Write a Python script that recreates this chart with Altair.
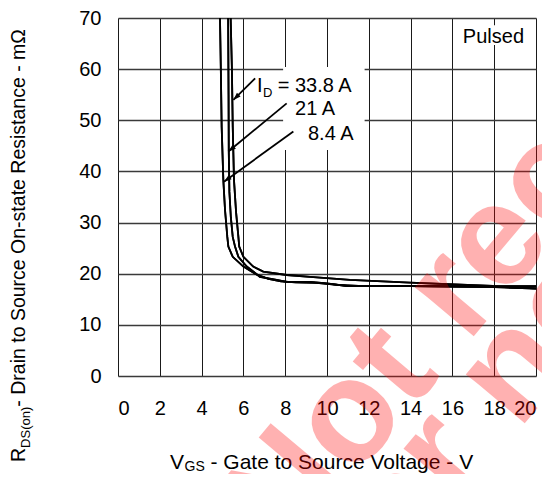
import math
import altair as alt
import pandas as pd

# ---------------- data ----------------
X_DOMAIN = [0, 20]
Y_DOMAIN = [0, 70]
x_ticks = list(range(0, 21, 2))
y_grid = list(range(0, 71, 5))

# I_D = 33.8 A
vgs_338 = [5.39, 5.45, 5.49, 5.55, 5.65, 5.76, 5.80, 6.00, 6.47, 6.95, 8.07, 9.19, 11.1, 13.97, 17.94, 20.0]
rds_338 = [70.0, 60.0, 48.7, 38.3, 32.0, 27.2, 25.3, 23.3, 21.4, 20.4, 19.75, 19.4, 18.8, 18.24, 17.6, 17.55]
# I_D = 21 A
vgs_21 = [5.27, 5.29, 5.30, 5.33, 5.40, 5.49, 5.60, 5.76, 6.16, 6.79, 7.59, 8.07, 9.19, 9.99, 10.94, 13.97, 17.94, 20.0]
rds_21 = [70.0, 55.0, 44.0, 36.0, 31.0, 27.2, 25.3, 23.3, 21.4, 19.4, 18.8, 18.4, 18.4, 18.1, 17.6, 17.6, 17.46, 17.15]
# I_D = 8.4 A
vgs_84 = [4.88, 4.92, 4.96, 5.04, 5.12, 5.23, 5.28, 5.49, 6.00, 6.60, 7.20, 7.80, 8.50, 9.50, 10.50, 11.50, 14.0, 18.0, 20.0]
rds_84 = [70.0, 60.0, 48.7, 38.3, 32.5, 27.2, 25.3, 23.3, 21.4, 19.9, 19.0, 18.5, 18.3, 18.2, 17.8, 17.6, 17.6, 17.4, 17.1]

# arrows: start (text side) -> tip (on curve)
arrow_x1 = [6.56, 8.07, 8.39]
arrow_y1 = [58.2, 53.3, 47.8]
arrow_x2 = [5.52, 5.28, 5.07]
arrow_y2 = [53.97, 43.9, 38.0]

# ---------------- layout ----------------
W, H = 418, 358
FONT = "Liberation Sans"
px_per_x = W / (X_DOMAIN[1] - X_DOMAIN[0])
px_per_y = H / (Y_DOMAIN[1] - Y_DOMAIN[0])

rows = []
for name, xs, ys in [("33.8 A", vgs_338, rds_338), ("21 A", vgs_21, rds_21), ("8.4 A", vgs_84, rds_84)]:
    for i, (xv, yv) in enumerate(zip(xs, ys)):
        rows.append({"series": name, "order": i, "vgs": xv, "rds": yv})
curves = pd.DataFrame(rows)

arr = pd.DataFrame({"x1": arrow_x1, "y1": arrow_y1, "x2": arrow_x2, "y2": arrow_y2})
arr["ang"] = [
    (math.degrees(math.atan2((b - a) * px_per_x, (d - c) * px_per_y)) + 360) % 360
    for a, b, c, d in zip(arr.x1, arr.x2, arr.y1, arr.y2)
]

xs = alt.Scale(domain=X_DOMAIN, nice=False, zero=False)
ys = alt.Scale(domain=Y_DOMAIN, nice=False, zero=False)

x_axis = alt.Axis(values=x_ticks, grid=True, gridColor="#1a1a1a", gridWidth=1, ticks=False,
                  domain=False, labelFont=FONT, labelFontSize=20, labelColor="black",
                  labelPadding=22, title=None)
y_axis = alt.Axis(values=y_grid, grid=True, gridColor="#3a3a3a", gridWidth=1.4, ticks=False,
                  domain=False, labelFont=FONT, labelFontSize=20, labelColor="black",
                  labelPadding=17, title=None,
                  labelExpr="datum.value % 10 == 0 ? datum.label : ''")

lines = alt.Chart(curves).mark_line(color="black", strokeWidth=1.8, clip=True).encode(
    x=alt.X("vgs:Q", scale=xs, axis=x_axis),
    y=alt.Y("rds:Q", scale=ys, axis=y_axis),
    detail="series:N",
    order="order:Q",
)

# white label backgrounds (hide the grid behind the annotations)
bg = pd.DataFrame({
    "bx1": [7.9, 6.3, 16.1],
    "bx2": [11.8, 7.9, 19.7],
    "by1": [44.2, 54.2, 64.7],
    "by2": [60.4, 59.6, 68.6],
})
boxes = alt.Chart(bg).mark_rect(fill="white").encode(
    x=alt.X("bx1:Q", scale=xs, title=None), x2="bx2:Q",
    y=alt.Y("by1:Q", scale=ys, title=None), y2="by2:Q",
)

shafts = alt.Chart(arr).mark_rule(color="black", strokeWidth=1.8).encode(
    x=alt.X("x1:Q", scale=xs, title=None), x2="x2:Q",
    y=alt.Y("y1:Q", scale=ys, title=None), y2="y2:Q",
)
heads = alt.Chart(arr).mark_point(
    shape="M0,0L0.65,1.9L-0.65,1.9Z", filled=True, color="black", size=64, opacity=1
).encode(
    x=alt.X("x2:Q", scale=xs, title=None),
    y=alt.Y("y2:Q", scale=ys, title=None),
    angle=alt.Angle("ang:Q", scale=None),
)

# annotation texts
ann = pd.DataFrame({
    "tx": [6.65, 6.94, 7.64, 8.47, 9.09, 16.5],
    "ty": [55.53, 54.56, 55.53, 51.0, 46.1, 65.1],
    "txt": ["I", "D", "= 33.8 A", "21 A", "8.4 A", "Pulsed"],
    "fs": [20, 13, 20, 20, 20, 20],
})
texts = alt.Chart(ann).mark_text(align="left", baseline="alphabetic", font=FONT, color="black").encode(
    x=alt.X("tx:Q", scale=xs, title=None),
    y=alt.Y("ty:Q", scale=ys, title=None),
    text="txt:N",
    size=alt.Size("fs:Q", scale=None, legend=None),
)

one = pd.DataFrame({"k": [0]})


def label(txt, x, y, size, angle=0, color="black", weight="normal", opacity=1.0):
    kw = dict(align="left", baseline="alphabetic", font=FONT, fontSize=size, color=color,
              fontWeight=weight, opacity=opacity, text=txt)
    if angle:
        kw["angle"] = angle
    return alt.Chart(one).mark_text(**kw).encode(x=alt.value(x), y=alt.value(y))


# axis titles with real subscripts
x_title = [
    label("V", 52, 451, 21),
    label("GS", 66.5, 453, 14),
    label("- Gate to Source Voltage - V", 92.5, 451, 21),
]
y_title = [
    label("R", -93, 444, 19.5, angle=270),
    label("DS(on)", -88, 429.9, 13, angle=270),
    label("- Drain to Source On-state Resistance - m\u03a9", -93, 388.7, 19.5, angle=270),
]

# red watermark
wm = [
    label("Not recommended", 168, 542, 145, angle=310, color="#ff0000", weight="bold", opacity=0.3),
    label("for new design", 250, 592, 145, angle=310, color="#ff0000", weight="bold", opacity=0.3),
]

chart = alt.layer(
    lines, boxes, lines, shafts, heads, texts, *x_title, *y_title, *wm
).properties(
    width=W, height=H,
    padding={"left": 110, "top": 10, "right": 6, "bottom": 98},
    autosize=alt.AutoSizeParams(type="none"),
).configure_view(stroke="black", strokeWidth=2.2).configure(background="white")

chart.save("out.html", embed_options={"renderer": "svg", "actions": False})
